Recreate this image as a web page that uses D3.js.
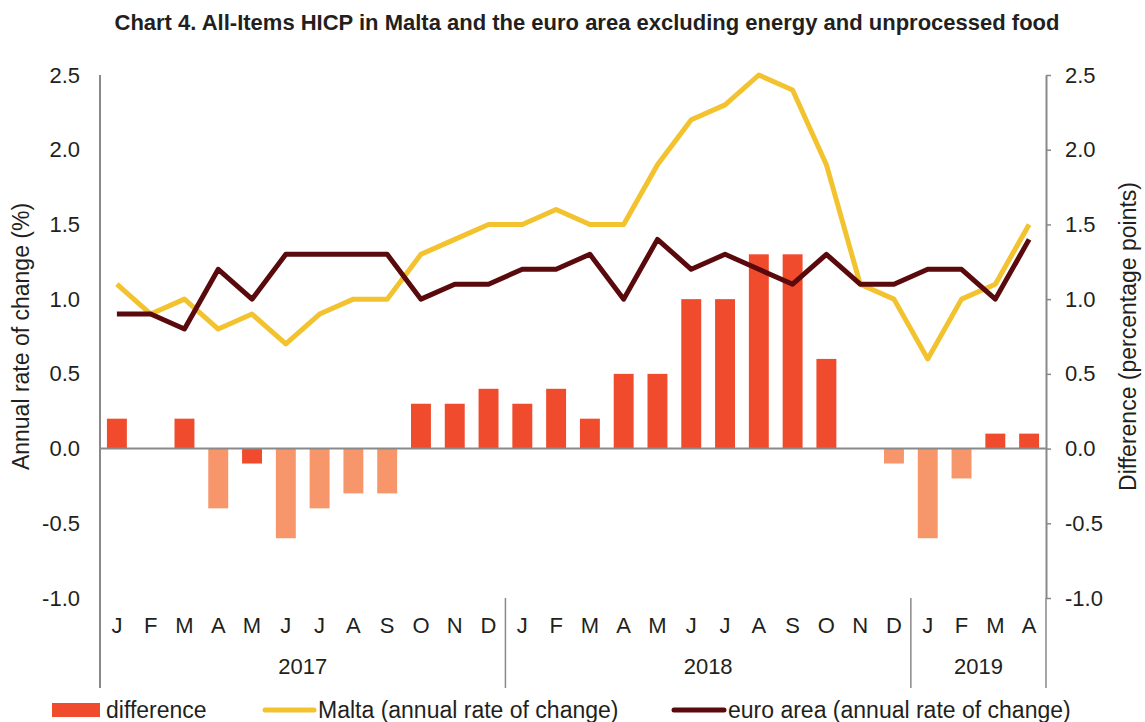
<!DOCTYPE html>
<html>
<head>
<meta charset="utf-8">
<script src="https://cdn.jsdelivr.net/npm/d3@7"></script>
<style>
  body { margin: 0; background: #fff; }
  text { font-family: "Liberation Sans", Arial, sans-serif; fill: #231f20; }
</style>
</head>
<body>
<div id="chart"></div>
<script>
// month labels, Jan 2017 - Apr 2019
var months = ["J","F","M","A","M","J","J","A","S","O","N","D",
              "J","F","M","A","M","J","J","A","S","O","N","D",
              "J","F","M","A"];
var years = [
  { label: "2017", start: 0, end: 12 },
  { label: "2018", start: 12, end: 24 },
  { label: "2019", start: 24, end: 28 }
];
var malta = [1.1,0.9,1.0,0.8,0.9,0.7,0.9,1.0,1.0,1.3,1.4,1.5,
             1.5,1.6,1.5,1.5,1.9,2.2,2.3,2.5,2.4,1.9,1.1,1.0,
             0.6,1.0,1.1,1.5];
var euroArea = [0.9,0.9,0.8,1.2,1.0,1.3,1.3,1.3,1.3,1.0,1.1,1.1,
                1.2,1.2,1.3,1.0,1.4,1.2,1.3,1.2,1.1,1.3,1.1,1.1,
                1.2,1.2,1.0,1.4];
var difference = [0.2,0,0.2,-0.4,-0.1,-0.6,-0.4,-0.3,-0.3,0.3,0.3,0.4,
                  0.3,0.4,0.2,0.5,0.5,1.0,1.0,1.3,1.3,0.6,0,-0.1,
                  -0.6,-0.2,0.1,0.1];
// bar shade as it appears in the chart (a = dark, b = light)
var barShade = ["a","a","a","b","a","b","b","b","b","a","a","a",
                "a","a","a","a","a","a","a","a","a","a","a","b",
                "b","b","a","a"];
var yTicks = [-1.0,-0.5,0,0.5,1.0,1.5,2.0,2.5];

var svgWidth = 1145, svgHeight = 722;
var margin = { top: 75, left: 100, right: 99, bottom: 124 };
var width = svgWidth - margin.left - margin.right;
var height = svgHeight - margin.top - margin.bottom;

var svg = d3.select("#chart").append("svg")
  .attr("width", svgWidth)
  .attr("height", svgHeight);

svg.append("text")
  .attr("x", 587)
  .attr("y", 30)
  .attr("text-anchor", "middle")
  .style("font-size", "22px")
  .style("font-weight", "bold")
  .text("Chart 4. All-Items HICP in Malta and the euro area excluding energy and unprocessed food");

var chartGroup = svg.append("g")
  .attr("transform", `translate(${margin.left}, ${margin.top})`);

var idx = d3.range(months.length);
var xBand = d3.scaleBand().domain(idx).range([0, width]).paddingInner(0.41).paddingOuter(0.205);
var xPoint = d => xBand(d) + xBand.bandwidth() / 2;
var yScale = d3.scaleLinear().domain([-1.0, 2.5]).range([height, 0]);
var shade = d3.scaleOrdinal().domain(["a","b"]).range(["#f04b2c","#f7966a"]);
var axisGrey = "#898989";
var fmt = d => d3.format(".1f")(d).replace("\u2212", "-");

// bars
chartGroup.selectAll(".bar")
  .data(idx)
  .enter()
  .append("rect")
  .attr("class", "bar")
  .attr("x", d => xBand(d))
  .attr("width", xBand.bandwidth())
  .attr("y", d => yScale(Math.max(0, difference[d])))
  .attr("height", d => Math.abs(yScale(difference[d]) - yScale(0)))
  .attr("fill", d => shade(barShade[d]));

// zero line
chartGroup.append("line")
  .attr("x1", 0).attr("x2", width)
  .attr("y1", yScale(0)).attr("y2", yScale(0))
  .attr("stroke", axisGrey).attr("stroke-width", 2);

// lines
var line = values => d3.line()
  .x(d => xPoint(d))
  .y(d => yScale(values[d]))(idx);

chartGroup.append("path")
  .attr("d", line(malta))
  .attr("fill", "none")
  .attr("stroke", "#f3c22f")
  .attr("stroke-width", 5)
  .attr("stroke-linejoin", "round");

chartGroup.append("path")
  .attr("d", line(euroArea))
  .attr("fill", "none")
  .attr("stroke", "#5a0a0c")
  .attr("stroke-width", 5)
  .attr("stroke-linejoin", "round");

// left axis (no ticks)
var yAxisLeft = d3.axisLeft(yScale).tickValues(yTicks).tickFormat(fmt).tickSize(0).tickPadding(20);
var gl = chartGroup.append("g").call(yAxisLeft);
gl.select(".domain").remove();
gl.selectAll("text").style("font-size", "22px").attr("fill", "#231f20");
chartGroup.append("line")
  .attr("x1", 0).attr("x2", 0)
  .attr("y1", 0).attr("y2", height + 90)
  .attr("stroke", axisGrey).attr("stroke-width", 2);

// right axis
var yAxisRight = d3.axisRight(yScale).tickValues(yTicks).tickFormat(fmt).tickSize(5).tickSizeOuter(0).tickPadding(14);
var gr = chartGroup.append("g")
  .attr("transform", `translate(${width}, 0)`)
  .call(yAxisRight);
gr.select(".domain").attr("stroke", axisGrey).attr("stroke-width", 2);
gr.selectAll(".tick line").attr("stroke", axisGrey).attr("stroke-width", 1.5);
gr.selectAll("text").style("font-size", "22px").attr("fill", "#231f20");

// month labels
chartGroup.selectAll(".month")
  .data(idx)
  .enter()
  .append("text")
  .attr("class", "month")
  .attr("x", d => xPoint(d))
  .attr("y", height + 35)
  .attr("text-anchor", "middle")
  .style("font-size", "22px")
  .text(d => months[d]);

// year dividers and labels
chartGroup.selectAll(".divider")
  .data(years)
  .enter()
  .append("line")
  .attr("class", "divider")
  .attr("x1", d => d.end * width / months.length)
  .attr("x2", d => d.end * width / months.length)
  .attr("y1", height)
  .attr("y2", height + 90)
  .attr("stroke", axisGrey)
  .attr("stroke-width", 1.5);

chartGroup.selectAll(".year")
  .data(years)
  .enter()
  .append("text")
  .attr("class", "year")
  .attr("x", d => (d.start + d.end) / 2 * width / months.length)
  .attr("y", height + 76)
  .attr("text-anchor", "middle")
  .style("font-size", "22px")
  .text(d => d.label);

// axis titles
svg.append("text")
  .attr("transform", `translate(29, ${margin.top + height / 2}) rotate(-90)`)
  .attr("text-anchor", "middle")
  .style("font-size", "23px")
  .text("Annual rate of change (%)");

svg.append("text")
  .attr("transform", `translate(1136, ${margin.top + height / 2}) rotate(-90)`)
  .attr("text-anchor", "middle")
  .style("font-size", "23px")
  .text("Difference (percentage points)");

// legend
var legend = svg.append("g").attr("transform", "translate(0, 710)");
legend.append("rect").attr("x", 52).attr("y", -7).attr("width", 48).attr("height", 14).attr("fill", "#f04b2c");
legend.append("text").attr("x", 106).attr("y", 8).style("font-size", "23px").text("difference");
legend.append("line").attr("x1", 265).attr("x2", 314).attr("y1", 0).attr("y2", 0)
  .attr("stroke", "#f3c22f").attr("stroke-width", 5).attr("stroke-linecap", "round");
legend.append("text").attr("x", 318).attr("y", 8).style("font-size", "23px").text("Malta (annual rate of change)");
legend.append("line").attr("x1", 674).attr("x2", 724).attr("y1", 0).attr("y2", 0)
  .attr("stroke", "#5a0a0c").attr("stroke-width", 5).attr("stroke-linecap", "round");
legend.append("text").attr("x", 728).attr("y", 8).style("font-size", "23px").text("euro area (annual rate of change)");
</script>
</body>
</html>
